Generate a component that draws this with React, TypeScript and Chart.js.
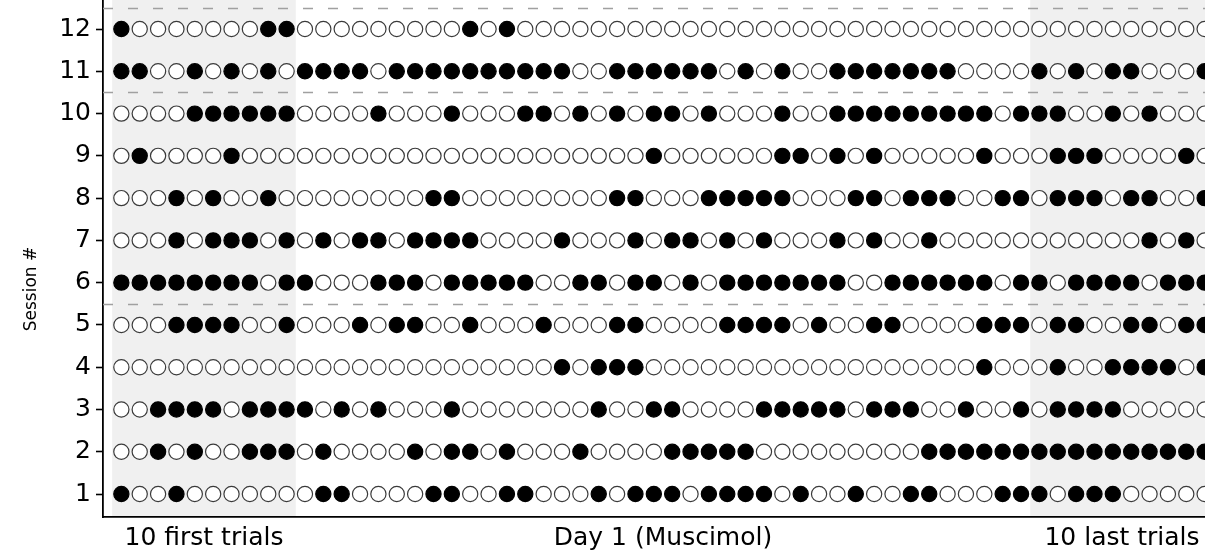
import React, { useEffect, useRef } from "react";
import { Chart, registerables } from "chart.js";

Chart.register(...registerables);

// 1 = filled (black) circle, 0 = open circle; one entry per trial (60 trials)
const session1 = [1,0,0,1,0,0,0,0,0,0, 0,1,1,0,0,0,0,1,1,0, 0,1,1,0,0,0,1,0,1,1, 1,0,1,1,1,1,0,1,0,0, 1,0,0,1,1,0,0,0,1,1, 1,0,1,1,1,0,0,0,0,0];
const session2 = [0,0,1,0,1,0,0,1,1,1, 0,1,0,0,0,0,1,0,1,1, 0,1,0,0,0,1,0,0,0,0, 1,1,1,1,1,0,0,0,0,0, 0,0,0,0,1,1,1,1,1,1, 1,1,1,1,1,1,1,1,1,1];
const session3 = [0,0,1,1,1,1,0,1,1,1, 1,0,1,0,1,0,0,0,1,0, 0,0,0,0,0,0,1,0,0,1, 1,0,0,0,0,1,1,1,1,1, 0,1,1,1,0,0,1,0,0,1, 0,1,1,1,1,0,0,0,0,0];
const session4 = [0,0,0,0,0,0,0,0,0,0, 0,0,0,0,0,0,0,0,0,0, 0,0,0,0,1,0,1,1,1,0, 0,0,0,0,0,0,0,0,0,0, 0,0,0,0,0,0,0,1,0,0, 0,1,0,0,1,1,1,1,0,1];
const session5 = [0,0,0,1,1,1,1,0,0,1, 0,0,0,1,0,1,1,0,0,1, 0,0,0,1,0,0,0,1,1,0, 0,0,0,1,1,1,1,0,1,0, 0,1,1,0,0,0,0,1,1,1, 0,1,1,0,0,1,1,0,1,1];
const session6 = [1,1,1,1,1,1,1,1,0,1, 1,0,0,0,1,1,1,0,1,1, 1,1,1,0,0,1,1,0,1,1, 0,1,0,1,1,1,1,1,1,1, 0,0,1,1,1,1,1,1,0,1, 1,0,1,1,1,1,0,1,1,1];
const session7 = [0,0,0,1,0,1,1,1,0,1, 0,1,0,1,1,0,1,1,1,1, 0,0,0,0,1,0,0,0,1,0, 1,1,0,1,0,1,0,0,0,1, 0,1,0,0,1,0,0,0,0,0, 0,0,0,0,0,0,1,0,1,0];
const session8 = [0,0,0,1,0,1,0,0,1,0, 0,0,0,0,0,0,0,1,1,0, 0,0,0,0,0,0,0,1,1,0, 0,0,1,1,1,1,1,0,0,0, 1,1,0,1,1,1,0,0,1,1, 0,1,1,1,0,1,1,0,0,1];
const session9 = [0,1,0,0,0,0,1,0,0,0, 0,0,0,0,0,0,0,0,0,0, 0,0,0,0,0,0,0,0,0,1, 0,0,0,0,0,0,1,1,0,1, 0,1,0,0,0,0,0,1,0,0, 0,1,1,1,0,0,0,0,1,0];
const session10 = [0,0,0,0,1,1,1,1,1,1, 0,0,0,0,1,0,0,0,1,0, 0,0,1,1,0,1,0,1,0,1, 1,0,1,0,0,0,1,0,0,1, 1,1,1,1,1,1,1,1,0,1, 1,1,0,0,1,0,1,0,0,0];
const session11 = [1,1,0,0,1,0,1,0,1,0, 1,1,1,1,0,1,1,1,1,1, 1,1,1,1,1,0,0,1,1,1, 1,1,1,0,1,0,1,0,0,1, 1,1,1,1,1,1,0,0,0,0, 1,0,1,0,1,1,0,0,0,1];
const session12 = [1,0,0,0,0,0,0,0,1,1, 0,0,0,0,0,0,0,0,0,1, 0,1,0,0,0,0,0,0,0,0, 0,0,0,0,0,0,0,0,0,0, 0,0,0,0,0,0,0,0,0,0, 0,0,0,0,0,0,0,0,0,0];

const sessions = [session1, session2, session3, session4, session5, session6, session7, session8, session9, session10, session11, session12];
const sessionNumbers = [1, 2, 3, 4, 5, 6, 7, 8, 9, 10, 11, 12];

const xTickValues = [4.5, 29.5, 54.5];
const xTickLabels = ["10 first trials", "Day 1 (Muscimol)", "10 last trials"];
const yTitle = "Session #";

const shadedRanges = [[-0.5, 9.5], [49.5, 59.5]];
const separatorLines = [5.5, 10.5, 12.5];

const FONT = "DejaVu Sans";

export default function App() {
  const ref = useRef<HTMLCanvasElement>(null);

  useEffect(() => {
    const canvas = ref.current;
    if (!canvas) return;

    const filled: { x: number; y: number }[] = [];
    const open: { x: number; y: number }[] = [];
    sessions.forEach((arr, s) => {
      arr.forEach((v, i) => {
        (v ? filled : open).push({ x: i, y: sessionNumbers[s] });
      });
    });

    const decor = {
      id: "decor",
      beforeDraw(chart: any) {
        const { ctx, chartArea, scales } = chart;
        const x = scales.x;
        ctx.save();
        ctx.fillStyle = "#f0f0f0";
        shadedRanges.forEach(([a, b]) => {
          const x0 = x.getPixelForValue(a);
          const x1 = x.getPixelForValue(b);
          ctx.fillRect(x0, chartArea.top, x1 - x0, chartArea.bottom - chartArea.top);
        });
        ctx.restore();
      },
      beforeDatasetsDraw(chart: any) {
        const { ctx, chartArea, scales } = chart;
        const y = scales.y;
        ctx.save();
        ctx.strokeStyle = "#a0a0a0";
        ctx.lineWidth = 1.5;
        ctx.setLineDash([10, 15]);
        separatorLines.forEach((v) => {
          const py = Math.round(y.getPixelForValue(v)) + 0.5;
          ctx.beginPath();
          ctx.moveTo(chartArea.left, py);
          ctx.lineTo(chartArea.right, py);
          ctx.stroke();
        });
        ctx.restore();
      },
      afterDraw(chart: any) {
        const { ctx, scales } = chart;
        const y = scales.y;
        ctx.save();
        ctx.fillStyle = "#000000";
        ctx.font = `17px "${FONT}"`;
        ctx.textAlign = "center";
        ctx.textBaseline = "middle";
        ctx.translate(32, y.getPixelForValue(5.85));
        ctx.rotate(-Math.PI / 2);
        ctx.fillText(yTitle, 0, 0);
        ctx.restore();
      },
    };

    const chart = new Chart(canvas, {
      type: "scatter",
      data: {
        datasets: [
          {
            label: "filled",
            data: filled,
            pointRadius: 7.6,
            pointBorderWidth: 1.2,
            pointBackgroundColor: "#000000",
            pointBorderColor: "#000000",
            showLine: false,
          },
          {
            label: "open",
            data: open,
            pointRadius: 7.6,
            pointBorderWidth: 1.2,
            pointBackgroundColor: "#ffffff",
            pointBorderColor: "#3a3a3a",
            showLine: false,
          },
        ],
      },
      plugins: [decor],
      options: {
        animation: false,
        responsive: false,
        devicePixelRatio: 1,
        layout: { padding: 0, autoPadding: false },
        plugins: {
          legend: { display: false },
          tooltip: { enabled: false },
        },
        scales: {
          x: {
            type: "linear",
            min: -1,
            max: 60,
            afterFit(scale: any) {
              scale.height = 39;
              scale.paddingLeft = 0;
              scale.paddingRight = 0;
            },
            afterBuildTicks(scale: any) {
              scale.ticks = xTickValues.map((v) => ({ value: v }));
            },
            grid: { display: false, drawTicks: false },
            border: { display: true, color: "#000000", width: 1.8 },
            ticks: {
              autoSkip: false,
              maxRotation: 0,
              padding: 6,
              color: "#000000",
              font: { family: FONT, size: 25 },
              callback: (v: any) => {
                const idx = xTickValues.indexOf(Number(v));
                return idx >= 0 ? xTickLabels[idx] : "";
              },
            },
          },
          y: {
            type: "linear",
            min: 0.456,
            max: 12.687,
            afterFit(scale: any) {
              scale.width = 103;
              scale.paddingTop = 0;
              scale.paddingBottom = 0;
            },
            afterBuildTicks(scale: any) {
              scale.ticks = sessionNumbers.map((v) => ({ value: v }));
            },
            grid: {
              display: true,
              drawOnChartArea: false,
              drawTicks: true,
              tickLength: 7,
              tickColor: "#000000",
              tickWidth: 1.6,
            },
            border: { display: true, color: "#000000", width: 1.8 },
            ticks: {
              autoSkip: false,
              padding: 5,
              color: "#000000",
              font: { family: FONT, size: 25 },
              callback: (v: any) => String(v),
            },
          },
        },
      },
    });

    return () => chart.destroy();
  }, []);

  return (
    <div
      style={{
        position: "fixed",
        left: 0,
        top: 0,
        width: 1205,
        height: 556,
        overflow: "hidden",
        background: "#ffffff",
      }}
    >
      <canvas ref={ref} width={1223} height={556} style={{ width: 1223, height: 556, display: "block" }} />
    </div>
  );
}
